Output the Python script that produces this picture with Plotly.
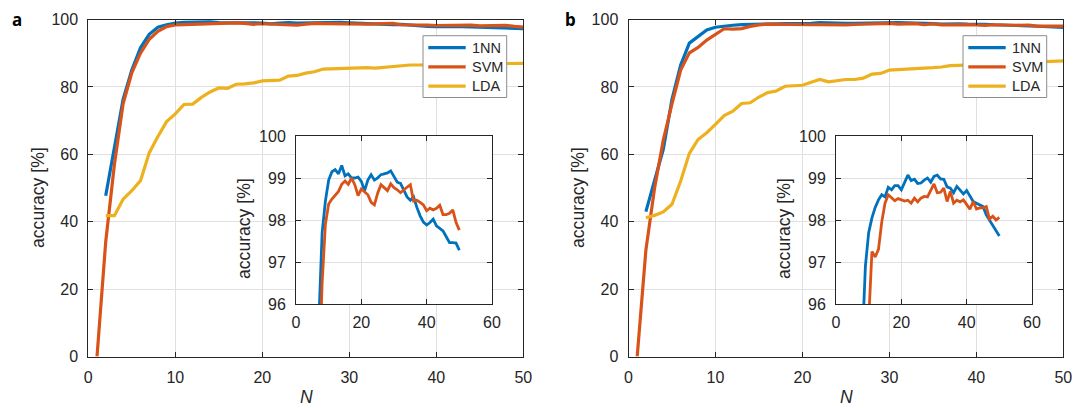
import plotly.graph_objects as go

W, H = 1080, 408

N = list(range(1, 51))

nn_a = [None, 47.7, 62.0, 76.3, 85.0, 91.6, 95.6, 97.7, 98.45, 98.95,
        99.15, 99.2, 99.1, 99.3, 99.05, 99.1, 99.0, 99.0, 99.02, 98.92,
        98.7, 98.95, 99.08, 98.95, 99.0, 99.08, 99.1, 99.12, 99.17, 99.02,
        98.9, 98.87, 98.72, 98.55, 98.47, 98.55, 98.3, 98.1, 97.95, 97.88,
        97.94, 98.02, 97.86, 97.8, 97.74, 97.6, 97.46, 97.46, 97.45, 97.28]
svm_a = [0.0, 34.0, 57.0, 75.0, 84.2, 90.0, 94.1, 96.5, 97.9, 98.38,
         98.5, 98.58, 98.68, 98.85, 98.93, 98.85, 99.0, 98.84, 98.58, 98.74,
         98.68, 98.6, 98.42, 98.36, 98.64, 98.84, 98.77, 98.7, 98.86, 98.77,
         98.72, 98.65, 98.72, 98.78, 98.84, 98.45, 98.47, 98.42, 98.36, 98.22,
         98.28, 98.24, 98.28, 98.35, 98.13, 98.13, 98.16, 98.24, 97.94, 97.76]
lda_a = [None, 41.8, 41.8, 46.7, 49.2, 52.2, 60.4, 65.3, 69.7, 72.0,
         74.8, 74.9, 76.9, 78.5, 79.7, 79.6, 80.8, 80.9, 81.2, 81.8,
         82.0, 82.0, 83.2, 83.4, 84.1, 84.5, 85.3, 85.4, 85.6, 85.7,
         85.7, 85.7, 85.6, 85.8, 86.0, 86.4, 86.5, 86.5, 86.5, 86.6,
         86.6, 86.7, 86.7, 86.8, 86.8, 86.9, 86.9, 87.0, 87.0, 87.0]

nn_b = [None, 43.0, 52.5, 61.5, 76.3, 86.5, 93.0, 95.0, 96.9, 97.7,
        98.05, 98.3, 98.48, 98.6, 98.55, 98.78, 98.72, 98.82, 98.82, 98.72,
        98.88, 99.07, 98.94, 98.97, 98.87, 98.88, 98.95, 99.0, 98.9, 99.04,
        99.07, 98.98, 98.97, 98.79, 98.76, 98.65, 98.8, 98.72, 98.62, 98.7,
        98.58, 98.44, 98.4, 98.35, 98.32, 98.12, 98.0, 97.85, 97.76, 97.62]
svm_b = [0.0, 31.6, 50.0, 64.2, 75.0, 85.0, 90.1, 91.7, 93.9, 95.6,
         97.25, 97.12, 97.3, 97.95, 98.4, 98.6, 98.53, 98.46, 98.51, 98.48,
         98.45, 98.47, 98.4, 98.52, 98.43, 98.52, 98.56, 98.55, 98.7, 98.86,
         98.65, 98.66, 98.76, 98.44, 98.68, 98.4, 98.47, 98.43, 98.48, 98.37,
         98.26, 98.44, 98.26, 98.29, 98.29, 98.32, 98.02, 98.09, 98.0, 98.06]
lda_b = [None, 41.2, 41.9, 42.9, 45.2, 52.1, 60.3, 64.4, 66.4, 68.9,
         71.5, 72.8, 75.1, 75.3, 77.0, 78.3, 78.8, 80.2, 80.4, 80.5,
         81.4, 82.2, 81.5, 81.9, 82.2, 82.2, 82.6, 83.8, 84.0, 85.0,
         85.1, 85.2, 85.4, 85.5, 85.7, 85.9, 86.3, 86.4, 86.5, 86.7,
         86.8, 86.9, 87.0, 87.1, 87.2, 87.3, 87.4, 87.5, 87.6, 87.7]

series_names = ["1NN", "SVM", "LDA"]
colors = ["#0072BD", "#D95319", "#EDB120"]

main_xticks = [0, 10, 20, 30, 40, 50]
main_yticks = [0, 20, 40, 60, 80, 100]
inset_xticks = [0, 20, 40, 60]
inset_yticks = [96, 97, 98, 99, 100]

FONT = "Liberation Sans"
TXT = "#262626"


def px(x):
    return x / W


def py(y):
    return 1 - y / H


fig = go.Figure()

panels = [
    ("x", "y", "x3", "y3", [nn_a, svm_a, lda_a]),
    ("x2", "y2", "x4", "y4", [nn_b, svm_b, lda_b]),
]
for xm, ym, xi, yi, data in panels:
    for name, col, vals in zip(series_names, colors, data):
        fig.add_trace(go.Scatter(x=N, y=vals, mode="lines", name=name,
                                 line=dict(color=col, width=3.2),
                                 xaxis=xm, yaxis=ym, showlegend=False,
                                 connectgaps=False))
    for name, col, vals in zip(series_names[:2], colors[:2], data[:2]):
        fig.add_trace(go.Scatter(x=N, y=vals, mode="lines", name=name,
                                 line=dict(color=col, width=2.8),
                                 xaxis=xi, yaxis=yi, showlegend=False))

axis_common = dict(showline=True, linecolor=TXT, linewidth=1, mirror="ticks",
                   ticks="inside", ticklen=5, tickcolor=TXT, tickwidth=1,
                   showgrid=True, gridcolor="#E0E0E0", gridwidth=1,
                   zeroline=False, automargin=False,
                   tickfont=dict(family=FONT, size=16, color=TXT))

main_y_dom = [py(356.6), py(19.5)]
inset_y_dom = [py(304), py(136)]

fig.update_layout(
    width=W, height=H, margin=dict(l=0, r=0, t=0, b=0, pad=0, autoexpand=False),
    paper_bgcolor="white", plot_bgcolor="white", showlegend=False,
    xaxis=dict(domain=[px(88.3), px(523.3)], range=[0, 50], tickvals=main_xticks,
               anchor="y", ticklabelstandoff=6, **axis_common),
    yaxis=dict(domain=main_y_dom, range=[0, 100], tickvals=main_yticks,
               anchor="x", ticklabelstandoff=6, **axis_common),
    xaxis2=dict(domain=[px(628.5), px(1063.3)], range=[0, 50], tickvals=main_xticks,
                anchor="y2", ticklabelstandoff=6, **axis_common),
    yaxis2=dict(domain=main_y_dom, range=[0, 100], tickvals=main_yticks,
                anchor="x2", ticklabelstandoff=6, **axis_common),
    xaxis3=dict(domain=[px(296), px(492)], range=[0, 60], tickvals=inset_xticks,
                anchor="y3", ticklabelstandoff=4, **axis_common),
    yaxis3=dict(domain=inset_y_dom, range=[96, 100], tickvals=inset_yticks,
                anchor="x3", ticklabelstandoff=6, **axis_common),
    xaxis4=dict(domain=[px(836), px(1032)], range=[0, 60], tickvals=inset_xticks,
                anchor="y4", ticklabelstandoff=4, **axis_common),
    yaxis4=dict(domain=inset_y_dom, range=[96, 100], tickvals=inset_yticks,
                anchor="x4", ticklabelstandoff=6, **axis_common),
)

annotations = []
shapes = []
common = dict(xref="paper", yref="paper", showarrow=False,
              xanchor="center", yanchor="middle")
for dx, letter, lx in [(0, "a", 17), (540, "b", 570)]:
    annotations.append(dict(x=px(lx), y=py(19), text="<b>%s</b>" % letter,
                            font=dict(family="Noto Sans", size=17, color="black"),
                            **common))
    annotations.append(dict(x=px(37.5 + dx), y=py(197.5), text="accuracy [%]",
                            textangle=-90,
                            font=dict(family=FONT, size=17.6, color=TXT), **common))
    annotations.append(dict(x=px(244 + dx), y=py(229), text="accuracy [%]",
                            textangle=-90,
                            font=dict(family=FONT, size=17.6, color=TXT), **common))
    annotations.append(dict(x=px(306 + dx), y=py(397), text="<i>N</i>",
                            font=dict(family=FONT, size=17.6, color=TXT), **common))
    # legend box
    shapes.append(dict(type="rect", xref="paper", yref="paper", layer="above",
                       x0=px(423 + dx), x1=px(506.7 + dx),
                       y0=py(97.5), y1=py(35.7),
                       fillcolor="white", line=dict(color="#8C8C8C", width=1)))
    for i, (name, col) in enumerate(zip(series_names, colors)):
        yy = 47.7 + 19.2 * i
        shapes.append(dict(type="line", xref="paper", yref="paper", layer="above",
                           x0=px(428.3 + dx), x1=px(465.7 + dx),
                           y0=py(yy), y1=py(yy),
                           line=dict(color=col, width=3.2)))
        annotations.append(dict(x=px(469.5 + dx), y=py(yy), text=name,
                                xref="paper", yref="paper", showarrow=False,
                                xanchor="left", yanchor="middle",
                                font=dict(family=FONT, size=14.5, color=TXT)))
fig.update_layout(annotations=annotations, shapes=shapes)

fig.write_html("out.html",
               config={"displayModeBar": False},
               post_script="document.body.style.margin='0px';"
                           "document.body.style.overflow='hidden';")
